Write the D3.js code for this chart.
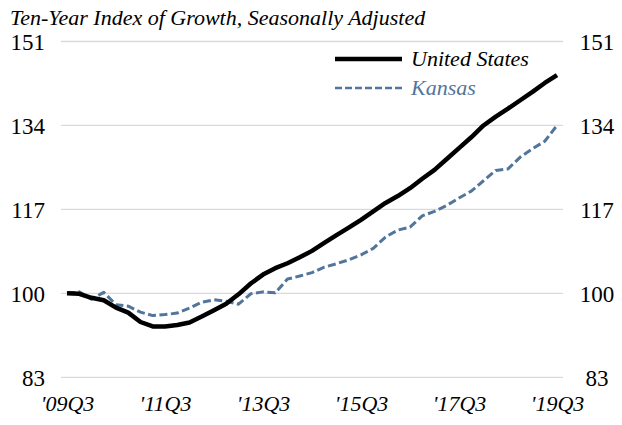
<!DOCTYPE html>
<html>
<head>
<meta charset="utf-8">
<script src="https://cdn.jsdelivr.net/npm/d3@7/dist/d3.min.js"></script>
<style>
  html, body { margin: 0; padding: 0; background: #ffffff; }
  svg { display: block; }
  svg text { font-family: "Liberation Serif", Tinos, "Times New Roman", Times, "DejaVu Serif", "Noto Serif", serif !important; }
</style>
</head>
<body>
<svg id="chart" width="622" height="425"></svg>
<script>
// ---- data ----
const quarters = [
  "2009Q3","2009Q4","2010Q1","2010Q2","2010Q3","2010Q4","2011Q1","2011Q2",
  "2011Q3","2011Q4","2012Q1","2012Q2","2012Q3","2012Q4","2013Q1","2013Q2",
  "2013Q3","2013Q4","2014Q1","2014Q2","2014Q3","2014Q4","2015Q1","2015Q2",
  "2015Q3","2015Q4","2016Q1","2016Q2","2016Q3","2016Q4","2017Q1","2017Q2",
  "2017Q3","2017Q4","2018Q1","2018Q2","2018Q3","2018Q4","2019Q1","2019Q2",
  "2019Q3"
];
const unitedStates = [
  100.0, 99.9, 99.1, 98.6, 97.1, 96.1, 94.2, 93.3,
  93.3, 93.6, 94.1, 95.3, 96.6, 97.9, 99.8, 102.0,
  103.8, 105.1, 106.1, 107.3, 108.6, 110.2, 111.8, 113.3,
  114.9, 116.6, 118.3, 119.7, 121.3, 123.2, 125.0, 127.2,
  129.4, 131.6, 134.0, 135.8, 137.4, 139.1, 140.8, 142.6,
  144.2
];
const kansas = [
  100.0, 100.3, 98.8, 100.2, 97.7, 97.4, 96.2, 95.5,
  95.7, 96.0, 97.0, 98.2, 98.7, 98.4, 97.8, 99.9,
  100.3, 100.1, 102.9, 103.5, 104.2, 105.3, 106.0, 106.8,
  107.8, 109.1, 111.4, 112.8, 113.4, 115.7, 116.6, 117.8,
  119.3, 120.7, 122.8, 124.9, 125.2, 127.6, 129.3, 130.8,
  134.0
];
const xTickLabels = ["'09Q3","'11Q3","'13Q3","'15Q3","'17Q3","'19Q3"];
const xTickQuarters = ["2009Q3","2011Q3","2013Q3","2015Q3","2017Q3","2019Q3"];
const yTicks = [83, 100, 117, 134, 151];
const seriesNames = ["United States", "Kansas"];
const title = "Ten-Year Index of Growth, Seasonally Adjusted";

// ---- layout ----
const FONT = "'Liberation Serif', Tinos, 'Times New Roman', Times, 'DejaVu Serif', 'Noto Serif', serif";
const svg = d3.select("#chart");
const plotLeft = 61, plotRight = 563;
const colors = { us: "#000000", ks: "#52759b" };

const x = d3.scalePoint().domain(quarters).range([67, 557]);
const y = d3.scaleLinear().domain([83, 151]).range([377.3, 41.5]);

// gridlines
svg.append("g").selectAll("line").data(yTicks).join("line")
  .attr("x1", plotLeft).attr("x2", plotRight)
  .attr("y1", d => y(d)).attr("y2", d => y(d))
  .attr("stroke", "#d9d9d9").attr("stroke-width", 1.3);

function styleAxis(g, italic, size) {
  g.attr("font-family", FONT);
  g.select(".domain").remove();
  g.selectAll("text")
    .attr("font-family", FONT)
    .style("font-style", italic ? "italic" : "normal")
    .style("font-size", size + "px").attr("fill", "#000");
}

// left axis labels
const leftAxis = svg.append("g").attr("transform", "translate(45,0)")
  .call(d3.axisLeft(y).tickValues(yTicks).tickSize(0).tickPadding(0));
styleAxis(leftAxis, false, 23);
leftAxis.selectAll("text").attr("dy", "0.34em");

// right axis labels
const rightAxis = svg.append("g").attr("transform", "translate(597,0)")
  .call(d3.axisRight(y).tickValues(yTicks).tickSize(0).tickPadding(0));
styleAxis(rightAxis, false, 23);
rightAxis.selectAll("text").attr("dy", "0.34em").attr("text-anchor", "middle");

// bottom axis labels
const labelMap = new Map(xTickQuarters.map((q, i) => [q, xTickLabels[i]]));
const bottomAxis = svg.append("g").attr("transform", "translate(0,394)")
  .call(d3.axisBottom(x).tickValues(xTickQuarters).tickFormat(q => labelMap.get(q)).tickSize(0).tickPadding(0));
styleAxis(bottomAxis, true, 22);
bottomAxis.selectAll("text").attr("dy", "0.76em");

// lines
const line = d3.line().x((d, i) => x(quarters[i])).y(d => y(d)).curve(d3.curveLinear);

svg.append("path").datum(kansas)
  .attr("d", line).attr("fill", "none")
  .attr("stroke", colors.ks).attr("stroke-width", 3)
  .attr("stroke-dasharray", "8,3.5")
  .attr("stroke-linejoin", "round");

svg.append("path").datum(unitedStates)
  .attr("d", line).attr("fill", "none")
  .attr("stroke", colors.us).attr("stroke-width", 4.5)
  .attr("stroke-linejoin", "round");

// title
svg.append("text").attr("x", 10).attr("y", 25)
  .attr("font-family", FONT)
  .style("font-style", "italic").style("font-size", "22px")
  .text(title);

// legend
const legend = svg.append("g").attr("font-family", FONT);
legend.append("line").attr("x1", 335).attr("x2", 402).attr("y1", 59).attr("y2", 59)
  .attr("stroke", colors.us).attr("stroke-width", 4.5);
legend.append("text").attr("x", 411).attr("y", 66)
  .style("font-style", "italic").style("font-size", "22px").attr("fill", "#000")
  .text(seriesNames[0]);
legend.append("line").attr("x1", 335).attr("x2", 402).attr("y1", 88).attr("y2", 88)
  .attr("stroke", colors.ks).attr("stroke-width", 2.5).attr("stroke-dasharray", "7,3");
legend.append("text").attr("x", 411).attr("y", 95)
  .style("font-style", "italic").style("font-size", "22px").attr("fill", colors.ks)
  .text(seriesNames[1]);
</script>
</body>
</html>
